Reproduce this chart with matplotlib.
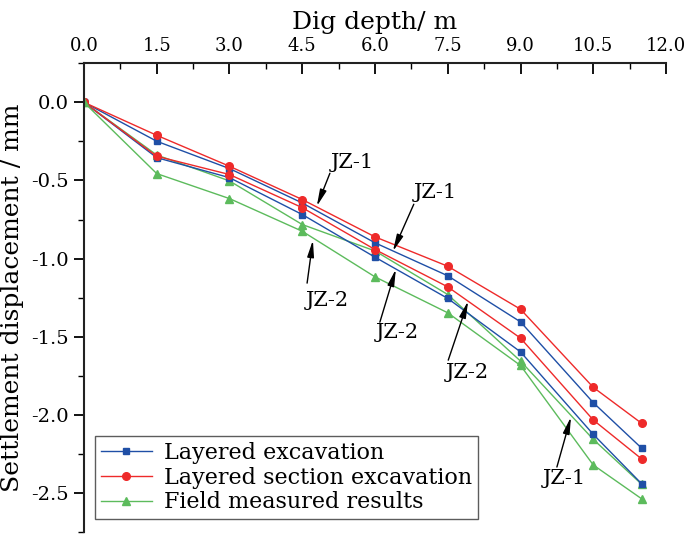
import numpy as np
import matplotlib
matplotlib.use("Agg")
import matplotlib.pyplot as plt
from matplotlib.ticker import MultipleLocator, FormatStrFormatter

# data
depth = [0.0, 1.5, 3.0, 4.5, 6.0, 7.5, 9.0, 10.5, 11.5]

layered_jz1 = [0.0, -0.249, -0.424, -0.644, -0.899, -1.110, -1.405, -1.922, -2.214]
layered_jz2 = [0.0, -0.354, -0.482, -0.718, -0.991, -1.255, -1.597, -2.125, -2.442]
section_jz1 = [0.0, -0.211, -0.409, -0.622, -0.861, -1.049, -1.324, -1.824, -2.055]
section_jz2 = [0.0, -0.345, -0.462, -0.674, -0.942, -1.181, -1.509, -2.033, -2.283]
field_jz1 = [0.0, -0.337, -0.503, -0.782, -0.951, -1.230, -1.656, -2.157, -2.445]
field_jz2 = [0.0, -0.456, -0.616, -0.825, -1.117, -1.347, -1.684, -2.321, -2.538]

BLUE = "#1f4fa6"
RED = "#ee2a2a"
GREEN = "#5cbb5c"

plt.rcParams["font.family"] = ["DejaVu Serif"]
plt.rcParams["axes.unicode_minus"] = True

fig = plt.figure(figsize=(6.85, 5.34), dpi=100)
ax = fig.add_axes([0.1226, 0.0037, 0.8497, 0.8778])

lw = 1.0
ax.plot(depth, layered_jz1, color=BLUE, marker="s", ms=5, lw=lw, label="Layered excavation")
ax.plot(depth, section_jz1, color=RED, marker="o", ms=5.5, lw=lw, label="Layered section excavation")
ax.plot(depth, field_jz1, color=GREEN, marker="^", ms=6, lw=lw, label="Field measured results")
ax.plot(depth, layered_jz2, color=BLUE, marker="s", ms=5, lw=lw)
ax.plot(depth, section_jz2, color=RED, marker="o", ms=5.5, lw=lw)
ax.plot(depth, field_jz2, color=GREEN, marker="^", ms=6, lw=lw)

ax.set_xlim(0, 12)
ax.set_ylim(-2.75, 0.25)

ax.xaxis.tick_top()
ax.xaxis.set_label_position("top")
ax.xaxis.set_major_locator(MultipleLocator(1.5))
ax.xaxis.set_minor_locator(MultipleLocator(0.75))
ax.yaxis.set_major_locator(MultipleLocator(0.5))
ax.yaxis.set_minor_locator(MultipleLocator(0.25))
ax.xaxis.set_major_formatter(FormatStrFormatter("%.1f"))
ax.yaxis.set_major_formatter(FormatStrFormatter("%.1f"))

ax.tick_params(axis="x", which="major", direction="in", length=8, width=1.3, labelsize=13, pad=6)
ax.tick_params(axis="x", which="minor", direction="in", length=4, width=1.0)
ax.tick_params(axis="y", which="major", direction="out", length=7, width=1.3, labelsize=14, pad=4)
ax.tick_params(axis="y", which="minor", direction="out", length=4, width=1.0)

for s in ["right", "bottom"]:
    ax.spines[s].set_visible(False)
for s in ["top", "left"]:
    ax.spines[s].set_linewidth(1.5)
    ax.spines[s].set_color("#222222")

ax.set_xlabel("Dig depth/ m", fontsize=18, labelpad=6)
ax.set_ylabel("Settlement displacement / mm", fontsize=18, labelpad=5)

# annotations: (text, text pos, arrow start, arrow tip)
notes = [
    ("JZ-1", (5.53, -0.384), (5.07, -0.454), (4.80, -0.665)),
    ("JZ-1", (7.24, -0.575), (6.80, -0.652), (6.37, -0.953)),
    ("JZ-2", (5.01, -1.266), (4.60, -1.157), (4.72, -0.882)),
    ("JZ-2", (6.45, -1.471), (6.10, -1.407), (6.43, -1.068)),
    ("JZ-2", (7.90, -1.726), (7.51, -1.650), (7.92, -1.272)),
    ("JZ-1", (9.90, -2.410), (9.75, -2.334), (10.04, -2.014)),
]
for txt, tpos, start, tip in notes:
    ax.text(tpos[0], tpos[1], txt, fontsize=15, ha="center", va="center")
    ax.annotate("", xy=tip, xytext=start,
                arrowprops=dict(arrowstyle="-|>,head_length=1.0,head_width=0.2",
                                color="black", lw=1.0, shrinkA=0, shrinkB=0))

leg = ax.legend(loc="lower left", bbox_to_anchor=(0.019, 0.028), borderaxespad=0,
                fontsize=16, numpoints=1, handlelength=2.3, labelspacing=0.12,
                fancybox=False, frameon=True, borderpad=0.25, handletextpad=0.55)
leg.get_frame().set_edgecolor("#333333")
leg.get_frame().set_linewidth(1.0)

fig.savefig("out.png", dpi=100)
